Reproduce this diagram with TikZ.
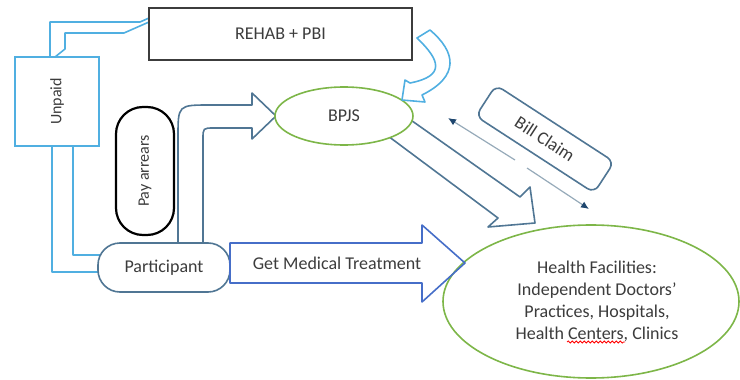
\documentclass[tikz,border=0pt]{standalone}
\usepackage{fontspec}
\setmainfont{Carlito}
\usetikzlibrary{shapes.geometric,arrows.meta,decorations.pathmorphing}

\begin{document}
\begin{tikzpicture}[x=1pt,y=-1pt,
    lbl/.style={text=txtgray,font=\fontsize{18}{22}\selectfont},
    vlbl/.style={text=txtgray,font=\fontsize{16}{19}\selectfont,rotate=90},
    band/.style={line width=1.6pt,line join=round},
    claimline/.style={line width=1.2pt,draw=claimgray,-{Latex[length=8pt,width=7pt,color=claimtip]}}]
    \definecolor{skyline}{RGB}{80,175,225}
    \definecolor{slate}{RGB}{80,118,148}
    \definecolor{medblue}{RGB}{70,110,200}
    \definecolor{leaf}{RGB}{125,182,72}
    \definecolor{boxgray}{RGB}{60,60,60}
    \definecolor{txtgray}{RGB}{60,60,60}
    \definecolor{claimgray}{RGB}{150,170,185}
    \definecolor{claimtip}{RGB}{30,70,110}
    \useasboundingbox (0,0) rectangle (740,380);

    \draw[band,draw=skyline] (50,57) -- (50,22) -- (140,22) -- (149,18);
    \draw[band,draw=skyline] (55,57) -- (65,49) -- (65,33) -- (124,33) -- (149,22);
    \draw[band,draw=skyline] (52,146) -- (52,272) -- (110,272);
    \draw[band,draw=skyline] (73,146) -- (73,255) -- (110,255);
    \draw[band,draw=slate] (178,250) -- (178,137) .. controls (178,105) .. (210,105) -- (252,105) -- (252,93)
        -- (276,116) -- (252,139) -- (252,128) -- (214,128) .. controls (203,128) .. (203,139) -- (203,250);
    \draw[band,draw=slate] (398,111) -- (520,197) -- (530,187) -- (535,223) -- (488,227) -- (498,218) -- (380,130);

    \node[shape=rectangle,draw=boxgray,line width=1.8pt,fill=white,minimum width=263pt,minimum height=52pt,lbl] (rehab) at (280.5,34) {REHAB + PBI};
    \node[shape=rectangle,draw=skyline,line width=1.6pt,fill=white,minimum width=89pt,minimum height=84pt,vlbl] (unpaid) at (57,101.5) {Unpaid};
    \node[shape=rectangle,draw=black,line width=2.2pt,fill=white,rounded corners=27pt,minimum width=128pt,minimum height=58pt,vlbl] (arrears) at (145,171) {Pay arrears};
    \node[shape=rectangle,draw=slate,line width=1.6pt,fill=white,rounded corners=22pt,minimum width=132pt,minimum height=49pt,lbl] (part) at (164,267.5) {Participant};
    \node[shape=ellipse,draw=leaf,line width=1.6pt,fill=white,inner sep=0pt,minimum width=138pt,minimum height=58pt,lbl] (bpjs) at (344,116) {BPJS};
    \node[shape=ellipse,draw=leaf,line width=1.6pt,fill=white,inner sep=0pt,minimum width=296pt,minimum height=153pt,align=center,lbl] (health) at (591,301.5)
        {\hspace*{12pt}Health Facilities:\\\hspace*{12pt}Independent Doctors'\\\hspace*{12pt}Practices, Hospitals,\\\hspace*{12pt}Health Centers, Clinics};
    \node[shape=rectangle,draw=slate,line width=1.6pt,fill=white,rounded corners=8pt,minimum width=141pt,minimum height=37pt,rotate=-33,lbl] (bill) at (545,139) {Bill Claim};

    \draw[band,draw=medblue] (230,243) -- (422,243) -- (422,225) -- (465,263) -- (422,302) -- (422,283) -- (230,283) -- cycle;
    \node[lbl] (treat) at (337,263) {Get Medical Treatment};
    \draw[band,draw=skyline] (417,38) .. controls (440,60) and (446,76) .. (410,83) -- (405,80) -- (402,100)
        -- (425,102) -- (422,95) .. controls (460,76) and (456,52) .. (430,30) -- cycle;

    \coordinate (claimin) at (515,160);
    \coordinate (claimout) at (527,168);
    \draw[claimline] (claimin) -- (448,118);
    \draw[claimline] (claimout) -- (589,209);
    \draw[red,line width=0.8pt,decorate,decoration={snake,amplitude=1pt,segment length=4pt}] (567,342) -- (625,342);
\end{tikzpicture}
\end{document}
